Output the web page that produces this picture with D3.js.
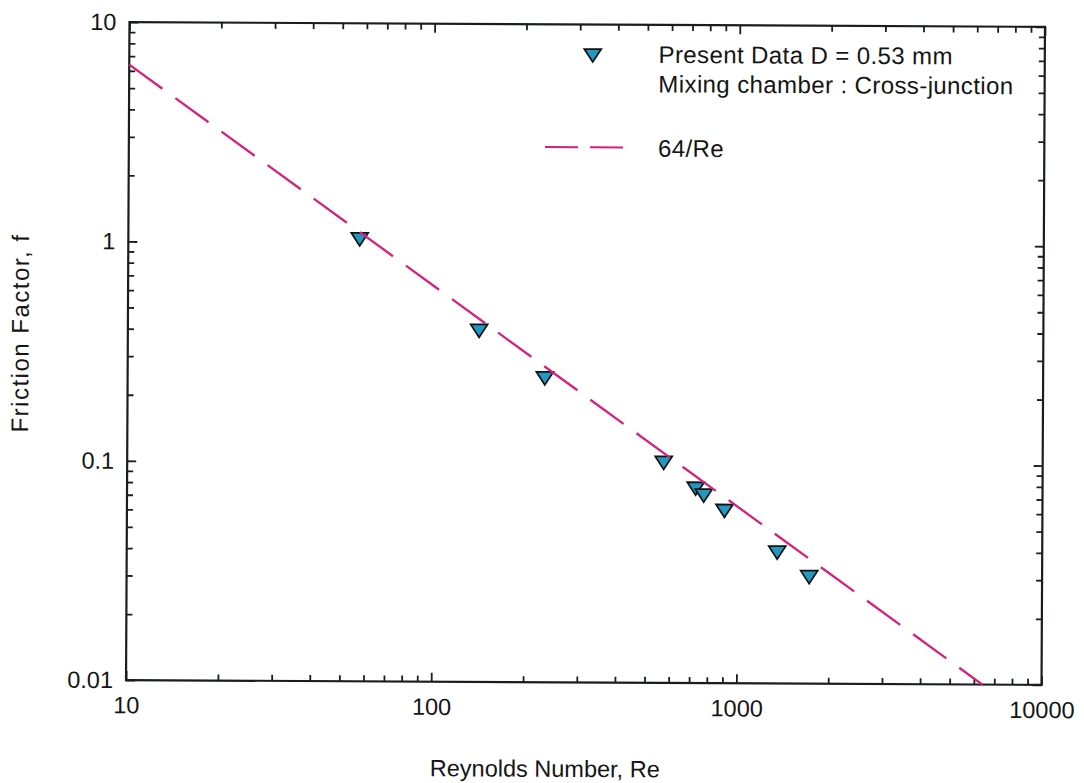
<!DOCTYPE html>
<html>
<head>
<meta charset="utf-8">
<script src="https://cdn.jsdelivr.net/npm/d3@7"></script>
<style>
  body { margin: 0; background: #fff; }
  text { font-family: "Liberation Sans", Arial, Helvetica, sans-serif; fill: #151515; }
</style>
</head>
<body>
<svg id="chart" width="1084" height="783"></svg>
<script>
// Measured friction factor vs Reynolds number (D = 0.53 mm, cross-junction mixing chamber)
const reynolds = [57.3, 141.6, 232.9, 573, 730, 776, 908, 1354, 1725];
const friction = [1.035, 0.3985, 0.243, 0.1007, 0.0769, 0.0716, 0.061, 0.0395, 0.0306];

// Laminar reference f = 64/Re
const laminarCoef = 64;

// Axis ticks
const xTickValues = [10, 100, 1000, 10000];
const xTickLabels = ["10", "100", "1000", "10000"];
const yTickValues = [0.01, 0.1, 1, 10];
const yTickLabels = ["0.01", "0.1", "1", "10"];

const xTitle = "Reynolds Number, Re";
const yTitle = "Friction Factor, f";
const legendData = ["Present Data D = 0.53 mm", "Mixing chamber : Cross-junction"];
const legendLine = "64/Re";

const W = 1084, H = 783;
const plot = { left: 127.75, right: 1043.25, top: 24.5, bottom: 682.5 };
const cx = (plot.left + plot.right) / 2, cy = (plot.top + plot.bottom) / 2;

const lineColor = "#d6207a";
const markerFill = "#2297c0";
const inkColor = "#1a1d1e";

const svg = d3.select("#chart");
svg.append("rect").attr("width", W).attr("height", H).attr("fill", "#fff");

// whole figure sits slightly tilted on the page
const g = svg.append("g").attr("transform", `rotate(0.3 ${cx} ${cy})`);

const x = d3.scaleLog().domain([10, 10000]).range([plot.left, plot.right]);
const y = d3.scaleLog().domain([0.01, 10]).range([plot.bottom, plot.top]);

const isDecade = v => Math.abs(Math.log10(v) - Math.round(Math.log10(v))) < 1e-9;
const minorX = x.ticks().filter(v => !isDecade(v));
const minorY = y.ticks().filter(v => !isDecade(v));

function styleAxis(sel, withText) {
  sel.select(".domain").remove();
  sel.selectAll(".tick line").attr("stroke", inkColor).attr("stroke-width", 1.8);
  sel.attr("font-family", null).attr("font-size", null);
  if (withText) {
    sel.selectAll(".tick text").attr("font-size", 23.5).attr("fill", inkColor);
  } else {
    sel.selectAll(".tick text").remove();
  }
}

// bottom axis
g.append("g").attr("transform", `translate(0,${plot.bottom})`)
  .call(d3.axisBottom(x).tickValues(minorX).tickSizeInner(-6).tickSizeOuter(0))
  .call(s => styleAxis(s, false));
g.append("g").attr("transform", `translate(0,${plot.bottom})`)
  .call(d3.axisBottom(x).tickValues(xTickValues).tickFormat((d, i) => xTickLabels[i])
    .tickSizeInner(-9).tickSizeOuter(0).tickPadding(16.5))
  .call(s => styleAxis(s, true));

// top axis
g.append("g").attr("transform", `translate(0,${plot.top})`)
  .call(d3.axisTop(x).tickValues(minorX).tickSizeInner(-6).tickSizeOuter(0))
  .call(s => styleAxis(s, false));
g.append("g").attr("transform", `translate(0,${plot.top})`)
  .call(d3.axisTop(x).tickValues(xTickValues).tickSizeInner(-9).tickSizeOuter(0))
  .call(s => styleAxis(s, false));

// left axis
g.append("g").attr("transform", `translate(${plot.left},0)`)
  .call(d3.axisLeft(y).tickValues(minorY).tickSizeInner(-6).tickSizeOuter(0))
  .call(s => styleAxis(s, false));
g.append("g").attr("transform", `translate(${plot.left},0)`)
  .call(d3.axisLeft(y).tickValues(yTickValues).tickFormat((d, i) => yTickLabels[i])
    .tickSizeInner(-9).tickSizeOuter(0).tickPadding(13))
  .call(s => styleAxis(s, true));

// right axis
g.append("g").attr("transform", `translate(${plot.right},0)`)
  .call(d3.axisRight(y).tickValues(minorY).tickSizeInner(-6).tickSizeOuter(0))
  .call(s => styleAxis(s, false));
g.append("g").attr("transform", `translate(${plot.right},0)`)
  .call(d3.axisRight(y).tickValues(yTickValues).tickSizeInner(-9).tickSizeOuter(0))
  .call(s => styleAxis(s, false));

// plot frame
g.append("rect")
  .attr("x", plot.left).attr("y", plot.top)
  .attr("width", plot.right - plot.left).attr("height", plot.bottom - plot.top)
  .attr("fill", "none").attr("stroke", inkColor).attr("stroke-width", 2.2);

// data markers: inverted triangles
const tri = "M-8.5,-6.5L8.5,-6.5L0,6.5Z";
g.append("g").selectAll("path")
  .data(reynolds.map((re, i) => ({ re, f: friction[i] })))
  .join("path")
  .attr("d", tri)
  .attr("transform", d => `translate(${x(d.re)},${y(d.f)})`)
  .attr("fill", markerFill).attr("stroke", "#111").attr("stroke-width", 1.7)
  .attr("stroke-linejoin", "miter");

// 64/Re line, from the left edge down to where it leaves through the bottom
const lineRe = [x.domain()[0], laminarCoef / y.domain()[0]];
g.append("path")
  .datum(lineRe)
  .attr("d", d3.line().x(d => x(d)).y(d => y(laminarCoef / d)))
  .attr("fill", "none").attr("stroke", lineColor).attr("stroke-width", 2.3)
  .attr("stroke-dasharray", "41,16");

// legend
const lg = g.append("g");
lg.append("path").attr("d", tri).attr("transform", "translate(591.2,55.5)")
  .attr("fill", markerFill).attr("stroke", "#111").attr("stroke-width", 1.7);
lg.append("text").attr("x", 657).attr("y", 62.5).attr("font-size", 24)
  .attr("letter-spacing", 0.4).text(legendData[0]);
lg.append("text").attr("x", 657).attr("y", 92).attr("font-size", 24)
  .attr("letter-spacing", 0.4).text(legendData[1]);
lg.append("line").attr("x1", 544).attr("x2", 622).attr("y1", 147.3).attr("y2", 147.3)
  .attr("stroke", lineColor).attr("stroke-width", 2).attr("stroke-dasharray", "33,12");
lg.append("text").attr("x", 657).attr("y", 156.3).attr("font-size", 24)
  .attr("letter-spacing", 0.4).text(legendLine);

// axis titles
g.append("text").attr("x", 547).attr("y", 777).attr("text-anchor", "middle")
  .attr("font-size", 23.5).text(xTitle);
g.append("text").attr("transform", `translate(28.5,336) rotate(-90)`)
  .attr("text-anchor", "middle").attr("font-size", 24).attr("letter-spacing", 1.5)
  .text(yTitle);
</script>
</body>
</html>
